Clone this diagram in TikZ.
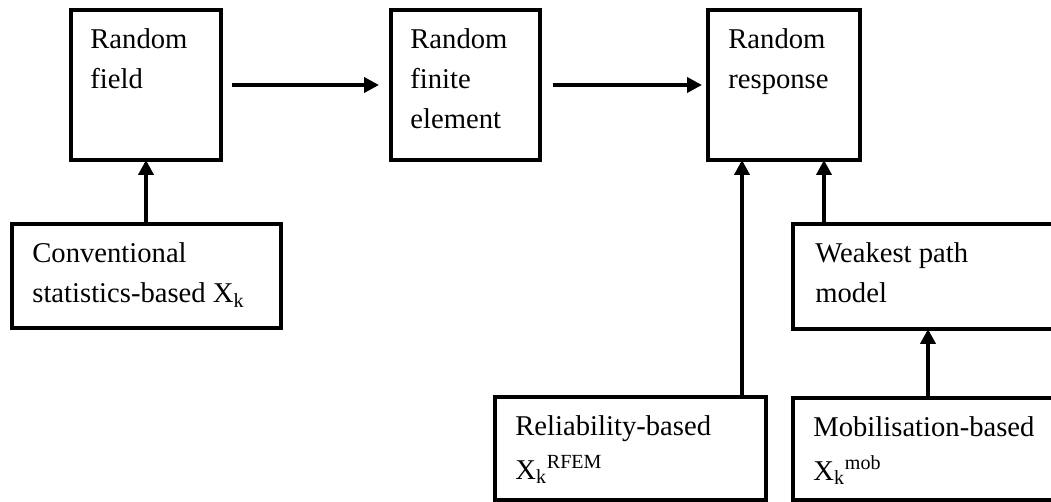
\documentclass[tikz,border=0pt]{standalone}
\usepackage{fontspec}
\setmainfont{Liberation Serif}
\usetikzlibrary{arrows.meta,positioning,calc}

\begin{document}
\begin{tikzpicture}[x=0.02cm,y=-0.02cm,
	box/.style={draw,line width=2pt,outer sep=0pt,inner sep=0pt},
	txt/.style={anchor=north west,inner sep=0pt,align=left,font=\fontsize{16.3}{22.8}\selectfont},
	arr/.style={-{Triangle[length=0.3cm,width=0.3cm]},line width=2.6pt}]
		\useasboundingbox (0,0) rectangle (1051,502);
		% boxes
		\node[box,minimum width=3cm,minimum height=3cm] (rf) at (146,85) {};
		\node[box,minimum width=2.98cm,minimum height=3cm] (rfe) at (465.5,85) {};
		\node[box,minimum width=3.04cm,minimum height=3cm] (rr) at (784,85) {};
		\node[box,minimum width=5.38cm,minimum height=2.08cm] (conv) at (146.5,276) {};
		\node[box,minimum width=5.44cm,minimum height=2.1cm] (weak) at (929,276.5) {};
		\node[box,minimum width=5.42cm,minimum height=2.06cm] (rel) at (630.5,448.5) {};
		\node[box,minimum width=5.44cm,minimum height=2.04cm] (mob) at (929,449) {};
		% texts
		\node[txt] (rftxt) at ([shift={(19,18.5)}]rf.north west) {Random\\field};
		\node[txt] (rfetxt) at ([shift={(19,18.5)}]rfe.north west) {Random\\finite\\element};
		\node[txt] (rrtxt) at ([shift={(20,18.5)}]rr.north west) {Random\\response};
		\node[txt] (convtxt) at ([shift={(20,18.5)}]conv.north west) {Conventional\\statistics-based X\textsubscript{k}};
		\node[txt] (weaktxt) at ([shift={(22,18.5)}]weak.north west) {Weakest path\\model};
		\node[txt] (reltxt) at ([shift={(20,18.5)}]rel.north west) {Reliability-based\\[2pt]X\textsubscript{k}\textsuperscript{RFEM}};
		\node[txt] (mobtxt) at ([shift={(20,18.5)}]mob.north west) {Mobilisation-based\\[2pt]X\textsubscript{k}\textsuperscript{mob}};
		% arrows
		\draw[arr,shorten <=0.22cm,shorten >=0.24cm] (rf) -- (rfe);
		\draw[arr,shorten <=0.26cm,shorten >=0.12cm] (rfe) -- (rr);
		\draw[arr] (conv.north -| rf.south) -- (rf.south);
		\draw[arr] ([xshift=-0.84cm]rr.south |- rel.north) -- ([xshift=-0.84cm]rr.south);
		\draw[arr] ([xshift=0.8cm]rr.south |- weak.north) -- ([xshift=0.8cm]rr.south);
		\draw[arr] ([xshift=2.7cm]mob.north west) -- ([xshift=2.7cm]mob.north west |- weak.south);
	\end{tikzpicture}
\end{document}
